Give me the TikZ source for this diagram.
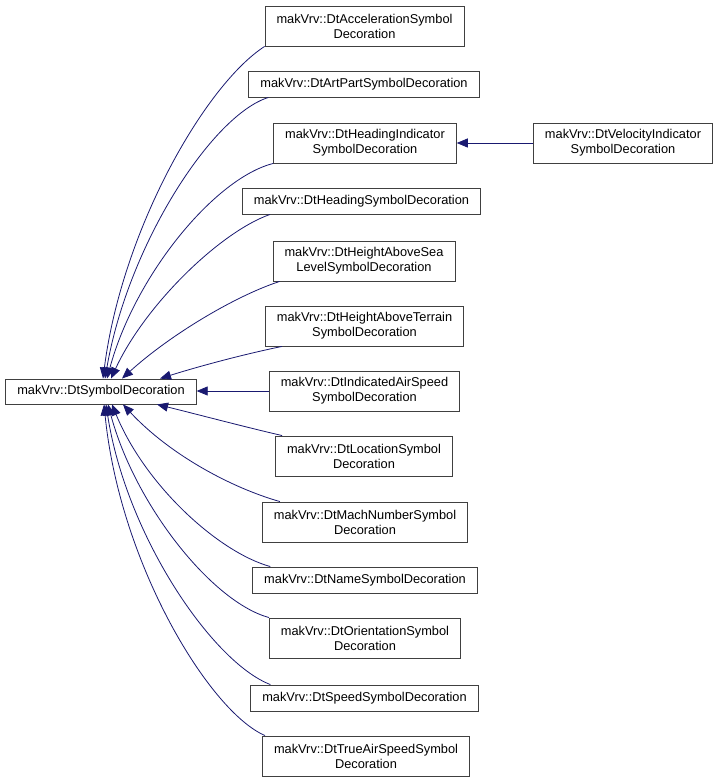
\documentclass[tikz,border=0pt]{standalone}
\usepackage{fontspec}
\setmainfont{Liberation Sans}
\usetikzlibrary{arrows.meta}
\definecolor{edgeblue}{HTML}{191970}
\definecolor{boxgray}{HTML}{404040}

\begin{document}
\begin{tikzpicture}[x=1pt,y=-1pt,
  cls/.style={draw=boxgray, line width=0.9pt, fill=white, inner xsep=11.5pt, inner ysep=0pt,
    minimum height=26pt, align=center, font=\fontsize{12.8}{15}\selectfont},
  cls2/.style={cls, minimum height=40pt},
  inh/.style={draw=edgeblue, line width=0.8pt, -{Triangle[length=11pt,width=9pt,fill=edgeblue]}}]
\useasboundingbox (0,0) rectangle (720,783);
% base class
\node[cls, minimum height=25pt] (base) at (101,391.5) {makVrv::DtSymbolDecoration};
% derived classes
\node[cls2] (acc) at (364.5,26) {makVrv::DtAccelerationSymbol\\Decoration};
\node[cls] (art) at (364,84) {makVrv::DtArtPartSymbolDecoration};
\node[cls2] (hi) at (365,143) {makVrv::DtHeadingIndicator\\SymbolDecoration};
\node[cls] (hs) at (361.5,201) {makVrv::DtHeadingSymbolDecoration};
\node[cls2] (sea) at (364,261) {makVrv::DtHeightAboveSea\\LevelSymbolDecoration};
\node[cls2] (ter) at (364.5,326) {makVrv::DtHeightAboveTerrain\\SymbolDecoration};
\node[cls2] (ias) at (364.5,391) {makVrv::DtIndicatedAirSpeed\\SymbolDecoration};
\node[cls2] (loc) at (364,456) {makVrv::DtLocationSymbol\\Decoration};
\node[cls2] (mach) at (365,522) {makVrv::DtMachNumberSymbol\\Decoration};
\node[cls] (name) at (365,580) {makVrv::DtNameSymbolDecoration};
\node[cls2] (ori) at (365,638) {makVrv::DtOrientationSymbol\\Decoration};
\node[cls] (speed) at (364.5,698) {makVrv::DtSpeedSymbolDecoration};
\node[cls2] (tas) at (366,756) {makVrv::DtTrueAirSpeedSymbol\\Decoration};
\node[cls2] (vel) at (623,143) {makVrv::DtVelocityIndicator\\SymbolDecoration};
% inheritance edges
\draw[inh] (vel.west) -- (hi.east);
\draw[inh] (acc.south west) .. controls (205,85) and (122,230) .. ([xshift=2pt]base.north);
\draw[inh] ([xshift=20pt]art.south west) .. controls (212,115) and (128,245) .. ([xshift=4pt]base.north);
\draw[inh] (hi.south west) .. controls (215,178) and (135,275) .. ([xshift=6pt]base.north);
\draw[inh] ([xshift=28pt]hs.south west) .. controls (220,232) and (145,305) .. ([xshift=10pt]base.north);
\draw[inh] ([xshift=7pt]sea.south west) .. controls (235,296) and (170,335) .. ([xshift=21pt]base.north);
\draw[inh] ([xshift=17pt]ter.south west) .. controls (245,354) and (200,366) .. ([xshift=59pt]base.north);
\draw[inh] (ias.west) -- (base.east |- ias.west);
\draw[inh] ([xshift=7pt]loc.north west) .. controls (245,427) and (200,415) .. ([xshift=56pt]base.south);
\draw[inh] ([xshift=18pt]mach.north west) .. controls (232,488) and (170,455) .. ([xshift=22pt]base.south);
\draw[inh] ([xshift=18pt]name.north west) .. controls (218,552) and (145,485) .. ([xshift=11pt]base.south);
\draw[inh] (ori.north west) .. controls (212,602) and (135,505) .. ([xshift=7pt]base.south);
\draw[inh] ([xshift=20pt]speed.north west) .. controls (212,662) and (126,535) .. ([xshift=5pt]base.south);
\draw[inh] ([xshift=3pt]tas.north west) .. controls (210,712) and (120,565) .. ([xshift=3pt]base.south);
\end{tikzpicture}
\end{document}
